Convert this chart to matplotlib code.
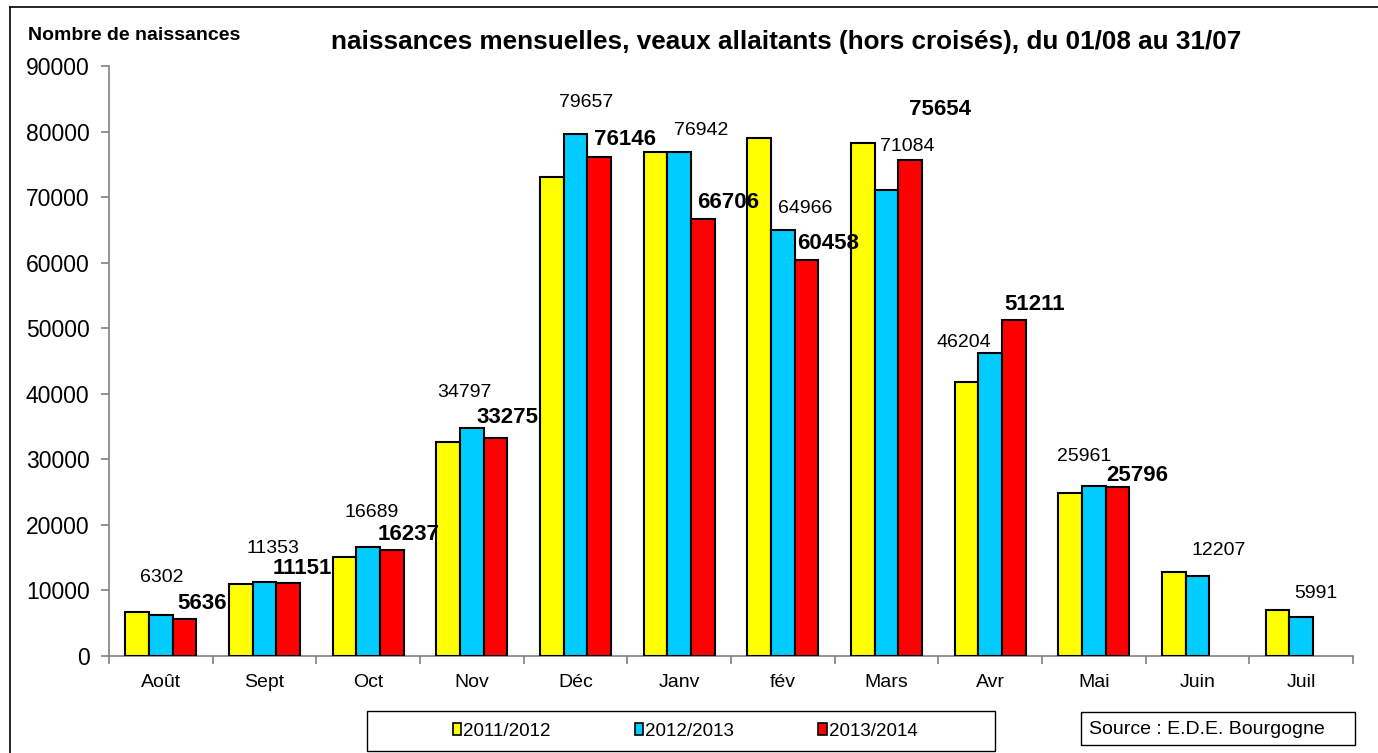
import numpy as np
import matplotlib
matplotlib.use("Agg")
from matplotlib import pyplot as plt
from matplotlib.patches import Rectangle, Patch
from matplotlib.lines import Line2D

plt.rcParams['font.family'] = ['Liberation Sans', 'DejaVu Sans']

# data
mois = ['Août', 'Sept', 'Oct', 'Nov', 'Déc', 'Janv', 'fév', 'Mars', 'Avr', 'Mai', 'Juin', 'Juil']
saison_2011 = [6700, 11050, 15050, 32650, 73050, 76900, 79050, 78300, 41750, 24850, 12750, 7050]
saison_2012 = [6302, 11353, 16689, 34797, 79657, 76942, 64966, 71084, 46204, 25961, 12207, 5991]
saison_2013 = [5636, 11151, 16237, 33275, 76146, 66706, 60458, 75654, 51211, 25796, np.nan, np.nan]
series = ['2011/2012', '2012/2013', '2013/2014']
y_ticks = [0, 10000, 20000, 30000, 40000, 50000, 60000, 70000, 80000, 90000]

# label offsets in pixels (dx, dy) from top of bar
off_b = [(1, 37), (8, 33), (3, 34), (-7, 35), (11, 31), (22, 21), (22, 22), (21, 44),
         (-26, 11), (-10, 29), (21, 25), (15, 23)]
off_r = [(18, 16), (14, 14), (17, 15), (12, 20), (26, 17), (25, 16), (22, 16), (30, 51),
         (21, 16), (20, 11)]

W, H = 1378, 753
fig = plt.figure(figsize=(W / 100, H / 100), dpi=100)
ax = fig.add_axes([109 / W, 1 - 656 / H, (1353 - 109) / W, (656 - 66) / H])

x = np.arange(len(mois))
bw = 0.228
cols = ['#FFFF00', '#00CCFF', '#FF0000']
ax.bar(x - bw, saison_2011, bw, color=cols[0], edgecolor='black', linewidth=1.5, zorder=3)
ax.bar(x, saison_2012, bw, color=cols[1], edgecolor='black', linewidth=1.5, zorder=3)
r = np.array(saison_2013, dtype=float)
ok = ~np.isnan(r)
ax.bar(x[ok] + bw, r[ok], bw, color=cols[2], edgecolor='black', linewidth=1.5, zorder=3)

for i, v in enumerate(saison_2012):
    ax.annotate(str(v), (x[i], v), xytext=off_b[i], textcoords='offset pixels',
                ha='center', va='center', fontsize=14)
for i, v in enumerate(saison_2013):
    if np.isnan(v):
        continue
    ax.annotate(str(int(v)), (x[i] + bw, v), xytext=off_r[i], textcoords='offset pixels',
                ha='center', va='center', fontsize=16, fontweight='bold')

ax.set_xlim(-0.5, len(mois) - 0.5)
ax.set_ylim(0, 90000)
ax.set_yticks(y_ticks)
ax.set_yticklabels([str(t) for t in y_ticks], fontsize=16.5)
ax.set_xticks(x)
ax.set_xticklabels(mois, fontsize=14)
ax.set_xticks(np.arange(-0.5, len(mois)), minor=True)
ax.tick_params(axis='x', which='major', length=0, pad=13)
ax.tick_params(axis='x', which='minor', length=6, width=1.2, color='#808080', direction='out')
ax.tick_params(axis='y', length=6, width=1.2, color='#808080', direction='out', pad=8)
for s in ['top', 'right']:
    ax.spines[s].set_visible(False)
for s in ['left', 'bottom']:
    ax.spines[s].set_color('#808080')
    ax.spines[s].set_linewidth(1.2)

# titles
fig.text(786 / W, 1 - 42 / H, 'naissances mensuelles, veaux allaitants (hors croisés), du 01/08 au 31/07',
         ha='center', va='center', fontsize=18.8, fontweight='bold')
fig.text(28 / W, 1 - 36 / H, 'Nombre de naissances', ha='left', va='center',
         fontsize=14, fontweight='bold')

# outer frame
fig.add_artist(Line2D([10 / W, 10 / W], [0, 1 - 7 / H], color='black', lw=1.2))
fig.add_artist(Line2D([10 / W, 1], [1 - 7 / H, 1 - 7 / H], color='black', lw=1.2))

# legend
fig.add_artist(Rectangle((367 / W, 1 - 751 / H), (995 - 367) / W, (751 - 711) / H,
                         transform=fig.transFigure, fill=False, ec='black', lw=1))
handles = [Patch(facecolor=c, edgecolor='black', linewidth=1.2) for c in cols]
fig.legend(handles, series, loc='center', bbox_to_anchor=(685 / W, 1 - 731 / H), ncol=3,
           frameon=False, fontsize=13.5, handlelength=0.45, handleheight=0.6,
           handletextpad=0.1, columnspacing=4.5)

# source
fig.add_artist(Rectangle((1081 / W, 1 - 745 / H), (1355 - 1081) / W, (745 - 712) / H,
                         transform=fig.transFigure, fill=False, ec='black', lw=1))
fig.text(1089 / W, 1 - 729 / H, 'Source : E.D.E. Bourgogne', ha='left', va='center', fontsize=14)

fig.savefig('out.png', dpi=100)
